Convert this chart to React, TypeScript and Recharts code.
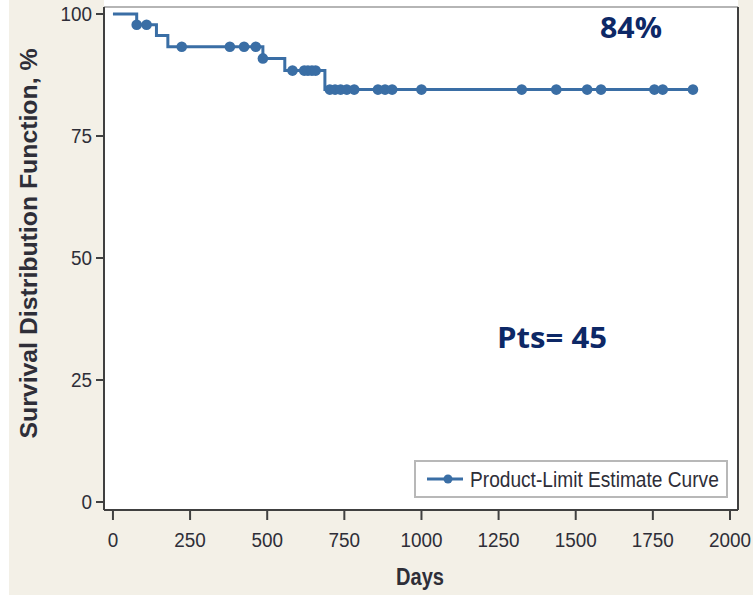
import React from 'react';
import {
  ComposedChart,
  Line,
  Scatter,
  XAxis,
  YAxis,
  CartesianGrid,
  Legend,
  Label,
  ReferenceLine,
} from 'recharts';

// Kaplan-Meier step points (day, survival %)
const stepDays = [0, 77, 141, 178, 486, 557, 687, 1880];
const stepSurvival = [100, 97.8, 95.6, 93.3, 90.9, 88.4, 84.5, 84.5];

// Censored observations (markers)
const censorDays = [
  77, 109, 223, 379, 425, 463, 486, 582, 620, 632, 645, 657, 703, 720, 738, 758,
  782, 859, 882, 905, 1000, 1325, 1437, 1537, 1582, 1755, 1782, 1880,
];
const censorSurvival = [
  97.8, 97.8, 93.3, 93.3, 93.3, 93.3, 90.9, 88.4, 88.4, 88.4, 88.4, 88.4, 84.5,
  84.5, 84.5, 84.5, 84.5, 84.5, 84.5, 84.5, 84.5, 84.5, 84.5, 84.5, 84.5, 84.5,
  84.5, 84.5,
];

const xTicks = [0, 250, 500, 750, 1000, 1250, 1500, 1750, 2000];
const yTicks = [0, 25, 50, 75, 100];

const seriesName = 'Product-Limit Estimate Curve';
const xTitle = 'Days';
const yTitle = 'Survival Distribution Function, %';
const annotationRate = '84%';
const annotationPts = 'Pts= 45';

const X_MIN = -29;
const X_MAX = 2026;
const Y_MIN = -1.64;
const Y_MAX = 101.43;

const stepData = stepDays.map((d, i) => ({ day: d, survival: stepSurvival[i] }));
const censorData = censorDays.map((d, i) => ({ day: d, survival: censorSurvival[i] }));

const BLUE = '#3a6ea5';
const CREAM = '#f3f0e7';
const AXIS = '#404040';
const TEXT = '#2e2e38';
const NAVY = '#0d2866';
const SANS = '"Liberation Sans", Arial, sans-serif';
const CONDENSE = 0.9;

const Dot = (props: any) => {
  const { cx, cy } = props;
  if (cx == null || cy == null) return null;
  return <circle cx={cx} cy={cy} r={5.3} fill={BLUE} />;
};

const XTick = (props: any) => {
  const { x, y, payload } = props;
  return (
    <g transform={`translate(${x},${y}) scale(${CONDENSE},1)`}>
      <text x={0} y={0} dy="0.71em" textAnchor="middle" fontFamily={SANS} fontSize={21} fill={TEXT}>
        {payload.value}
      </text>
    </g>
  );
};

const YTick = (props: any) => {
  const { x, y, payload } = props;
  return (
    <g transform={`translate(${x},${y}) scale(${CONDENSE},1)`}>
      <text x={0} y={0} dy="0.355em" textAnchor="end" fontFamily={SANS} fontSize={21} fill={TEXT}>
        {payload.value}
      </text>
    </g>
  );
};

const LegendBox = (props: any) => {
  const items = (props.payload || []).filter((p: any) => p.type !== 'none');
  const name = items.length ? items[0].value : seriesName;
  return (
    <svg width={314} height={38} style={{ display: 'block' }}>
      <rect x={1} y={1} width={312} height={36} fill="#fff" stroke="#b8b8b8" strokeWidth={2} />
      <line x1={13} y1={19} x2={49} y2={19} stroke={BLUE} strokeWidth={3} />
      <circle cx={34} cy={19} r={4.5} fill={BLUE} />
      <g transform="translate(56,19) scale(0.87,1)">
        <text x={0} y={0} dominantBaseline="central" fontFamily={SANS} fontSize={22} fill={TEXT}>
          {name}
        </text>
      </g>
    </svg>
  );
};

export default function App() {
  return (
    <div style={{ position: 'absolute', left: 0, top: 0, width: 753, height: 596, background: '#fff' }}>
      <div style={{ position: 'absolute', left: 9, top: 0, width: 744, height: 595, background: CREAM }} />
      <div style={{ position: 'absolute', left: 104, top: 0, width: 634, height: 10, background: '#fff' }} />
      <div style={{ position: 'absolute', left: 0, top: 0 }}>
        <ComposedChart width={753} height={596} margin={{ top: 7, right: 15, bottom: 0, left: 0 }}>
          <CartesianGrid fill="#fff" horizontal={false} vertical={false} />
          <XAxis
            type="number"
            dataKey="day"
            domain={[X_MIN, X_MAX]}
            ticks={xTicks}
            allowDataOverflow
            height={86}
            tickSize={10}
            tickMargin={12}
            axisLine={{ stroke: AXIS, strokeWidth: 2 }}
            tickLine={{ stroke: AXIS, strokeWidth: 2 }}
            tick={<XTick />}
          >
            <Label
              content={(p: any) => {
                const vb = p.viewBox || { x: 0, y: 0, width: 0, height: 0 };
                return (
                  <text
                    x={vb.x + vb.width / 2 - 25}
                    y={vb.y + 75}
                    fontFamily={SANS}
                    fontWeight="bold"
                    fontSize={23}
                    fill={TEXT}
                    textLength={48}
                    lengthAdjust="spacingAndGlyphs"
                  >
                    {xTitle}
                  </text>
                );
              }}
            />
          </XAxis>
          <YAxis
            type="number"
            dataKey="survival"
            domain={[Y_MIN, Y_MAX]}
            ticks={yTicks}
            allowDataOverflow
            width={104}
            tickSize={8}
            tickMargin={4}
            axisLine={{ stroke: AXIS, strokeWidth: 2 }}
            tickLine={{ stroke: AXIS, strokeWidth: 2 }}
            tick={<YTick />}
          >
            <Label
              content={(p: any) => {
                const vb = p.viewBox || { x: 0, y: 0, width: 0, height: 0 };
                const cx = vb.x + 28;
                const cy = vb.y + vb.height / 2 - 15;
                return (
                  <text
                    x={cx - 195}
                    y={cy}
                    transform={`rotate(-90 ${cx} ${cy})`}
                    dominantBaseline="central"
                    fontFamily={SANS}
                    fontWeight="bold"
                    fontSize={24}
                    fill={TEXT}
                    textLength={390}
                    lengthAdjust="spacingAndGlyphs"
                  >
                    {yTitle}
                  </text>
                );
              }}
            />
          </YAxis>
          <ReferenceLine y={Y_MAX} stroke="#b5b5b5" strokeWidth={2} />
          <ReferenceLine x={X_MAX} stroke={AXIS} strokeWidth={2} />
          <Line
            data={stepData}
            dataKey="survival"
            name={seriesName}
            type="stepAfter"
            stroke={BLUE}
            strokeWidth={3}
            dot={false}
            activeDot={false}
            isAnimationActive={false}
          />
          <Scatter
            data={censorData}
            dataKey="survival"
            fill={BLUE}
            shape={<Dot />}
            legendType="none"
            isAnimationActive={false}
          />
          <Legend
            layout="vertical"
            align="center"
            verticalAlign="middle"
            content={<LegendBox />}
            wrapperStyle={{ position: 'absolute', left: 414, top: 460, width: 314, height: 38 }}
          />
        </ComposedChart>
      </div>
      <svg
        width={753}
        height={596}
        style={{ position: 'absolute', left: 0, top: 0, pointerEvents: 'none' }}
      >
        <text x={600} y={38} fontFamily='"Open Sans", "Noto Sans", sans-serif' fontWeight="bold" fontSize={29} fill={NAVY} textLength={62} lengthAdjust="spacingAndGlyphs">
          {annotationRate}
        </text>
        <text x={497} y={348} fontFamily='"Open Sans", "Noto Sans", sans-serif' fontWeight="bold" fontSize={29} fill={NAVY} textLength={110} lengthAdjust="spacingAndGlyphs">
          {annotationPts}
        </text>
      </svg>
    </div>
  );
}
